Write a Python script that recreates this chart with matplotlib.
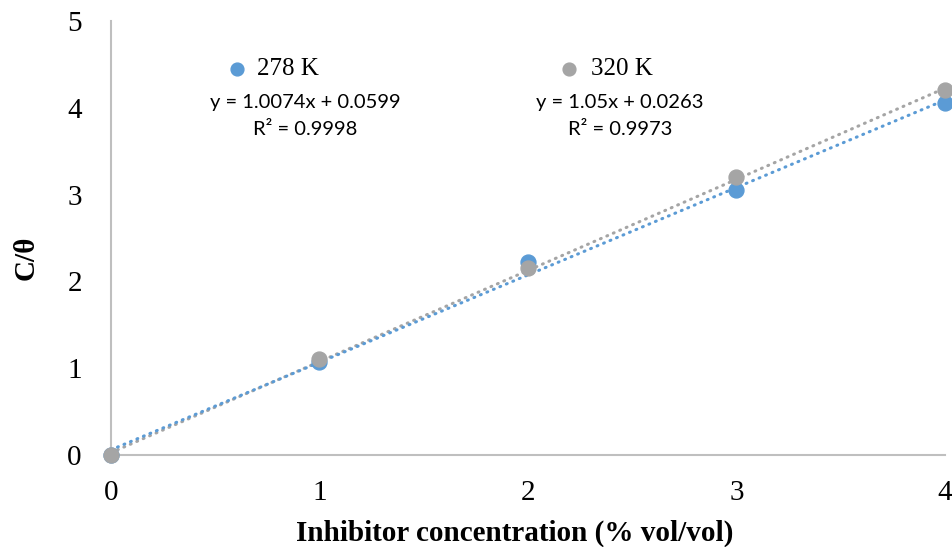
import numpy as np
import matplotlib.pyplot as plt

conc = [0, 1, 2, 3, 4]
c_theta_278 = [0.0, 1.07, 2.22, 3.05, 4.06]
c_theta_320 = [0.0, 1.11, 2.15, 3.20, 4.21]

# trendline coefficients as printed on the chart
fit_278 = (1.0074, 0.0599)
fit_320 = (1.05, 0.0263)

blue = '#5b9bd5'
grey = '#a5a5a5'

fig = plt.figure(figsize=(9.53, 5.47), dpi=100)
ax = fig.add_axes([111 / 953, 1 - 455 / 547, (945 - 111) / 953, (455 - 21) / 547])

xs = np.array([0, 4])
ax.plot(xs, fit_320[0] * xs + fit_320[1], color=grey, lw=2.2, ls=(0, (0.3, 2.0)),
        dash_capstyle='round', zorder=2)
ax.plot(xs, fit_278[0] * xs + fit_278[1], color=blue, lw=2.2, ls=(0, (0.3, 2.0)),
        dash_capstyle='round', zorder=2)
ax.scatter(conc, c_theta_278, s=115, color=blue, zorder=3, clip_on=False)
ax.scatter(conc, c_theta_320, s=115, color=grey, zorder=4, clip_on=False)

ax.set_xlim(0, 4)
ax.set_ylim(0, 5)
ax.set_xticks(range(5))
ax.set_yticks(range(6))
ax.tick_params(length=0, labelsize=21)
for lab in ax.get_xticklabels() + ax.get_yticklabels():
    lab.set_fontfamily('Liberation Serif')
ax.tick_params(axis='x', pad=18)
ax.tick_params(axis='y', pad=21)

for s in ['top', 'right']:
    ax.spines[s].set_visible(False)
for s in ['left', 'bottom']:
    ax.spines[s].set_color('#bfbfbf')
    ax.spines[s].set_linewidth(1.5)

fig.text(515 / 953, 1 - 533 / 547, 'Inhibitor concentration (% vol/vol)', fontsize=21,
         fontweight='bold', family='Liberation Serif', ha='center', va='center')
fig.text(26 / 953, 1 - 258 / 547, 'C/θ', fontsize=21, fontweight='bold',
         family='Liberation Serif', ha='center', va='center', rotation=90)

# legend-like labels and equations
ax.scatter([0.604], [4.45], s=85, color=blue, clip_on=False)
ax.text(0.70, 4.45, '278 K', fontsize=18, family='Liberation Serif', va='center')
ax.scatter([2.197], [4.45], s=85, color=grey, clip_on=False)
ax.text(2.30, 4.45, '320 K', fontsize=18, family='Liberation Serif', va='center')

eq_font = dict(fontsize=14.5, family='Lato', ha='center', va='center')
ax.text(0.93, 4.06, 'y = 1.0074x + 0.0599', **eq_font)
ax.text(0.93, 3.75, 'R² = 0.9998', **eq_font)
ax.text(2.44, 4.06, 'y = 1.05x + 0.0263', **eq_font)
ax.text(2.44, 3.75, 'R² = 0.9973', **eq_font)

fig.savefig('out.png', dpi=100)
